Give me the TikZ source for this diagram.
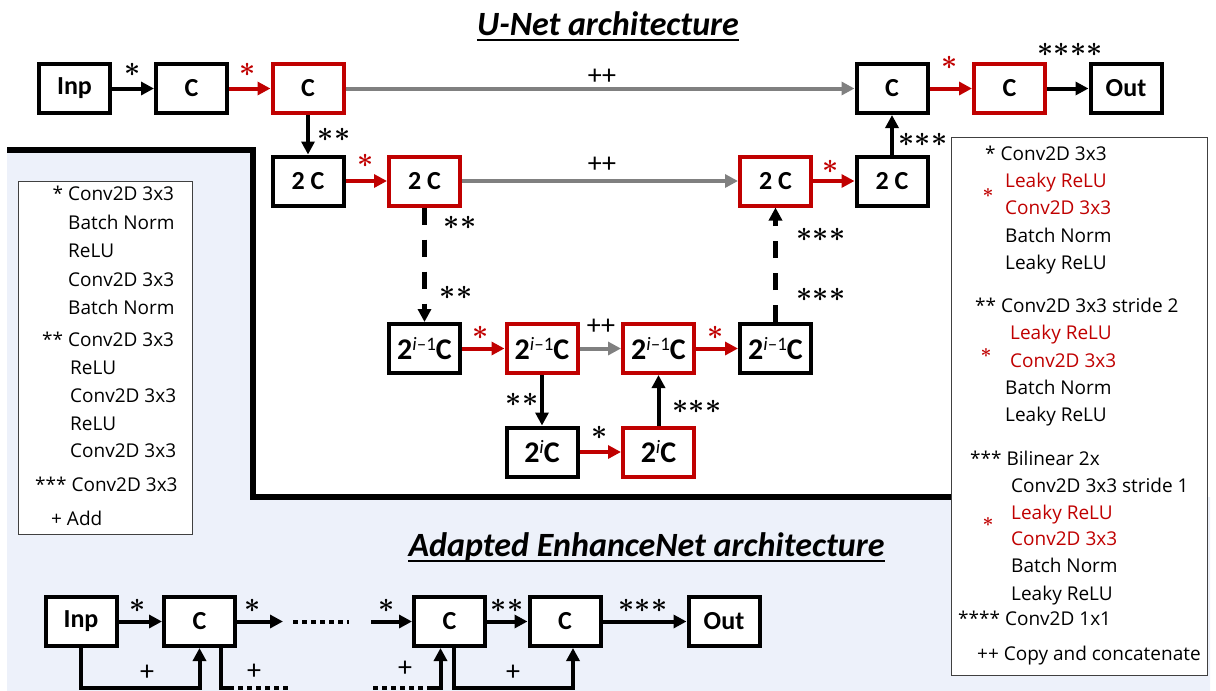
\RequirePackage{fix-cm}
\documentclass[tikz,border=0pt]{standalone}
\usepackage{fontspec}
\setmainfont{Open Sans}
\newfontfamily\carl{Carlito}
\usetikzlibrary{arrows.meta,calc}
\definecolor{ured}{RGB}{192,0,0}
\definecolor{ugray}{RGB}{128,128,128}
\definecolor{bgblue}{RGB}{237,241,250}
\definecolor{lgline}{RGB}{64,64,64}
\newcommand\astr{{\boldmath$\ast$}}
\newcommand\pw[1]{{\bfseries 2}\raisebox{9pt}{\fontsize{19}{19}\selectfont #1}{\bfseries C}}
\begin{document}
\begin{tikzpicture}[x=1pt,y=-1pt,
 box/.style={draw=black,line width=4pt,fill=white,minimum width=71pt,minimum height=49pt,inner sep=0pt,font=\carl\bfseries\fontsize{26}{26}\selectfont},
 rbox/.style={box,draw=ured},
 pbox/.style={box,font=\carl\fontsize{30}{30}\selectfont},
 rpbox/.style={pbox,draw=ured},
 arr/.style={line width=4pt,-{Triangle[length=13pt,width=13pt]}},
 darr/.style={arr,line width=4.5pt,dash pattern=on 17pt off 15pt},
 dots/.style={line width=4pt,dash pattern=on 5pt off 4pt},
 ast/.style={inner sep=0pt,font=\fontsize{28}{28}\selectfont},
 pls/.style={inner sep=0pt,font=\carl\fontsize{28}{28}\selectfont},
 lg/.style={inner sep=0pt,anchor=base west,font=\fontsize{19}{19}\selectfont},
 rlg/.style={lg,text=ured},
 lgbox/.style={draw=lgline,line width=1.3pt,fill=white,inner sep=0pt},
 ttl/.style={inner sep=0pt,anchor=base,font=\carl\bfseries\itshape\fontsize{34}{34}\selectfont}]
\useasboundingbox (0,0) rectangle (1216,691);
% background
\fill[bgblue] (7,150) -- (253,150) -- (253,497) -- (1210,497) -- (1210,691) -- (7,691) -- cycle;
\draw[line width=5.5pt] (7,150) -- (253,150) -- (253,497) -- (952,497);
% titles
\node[ttl] (t1) at (608,35) {U-Net architecture};
\draw[line width=2pt] ([yshift=-5pt]t1.base west) -- ([yshift=-5pt]t1.base east);
\node[ttl] (t2) at (646.5,556) {Adapted EnhanceNet architecture};
\draw[line width=2pt] ([yshift=-5pt]t2.base west) -- ([yshift=-5pt]t2.base east);
% U-Net nodes
\node[box]  (inp) at (74.5,88.5) {Inp};
\node[box]  (c1)  at (191.5,88.5) {C};
\node[rbox] (c2)  at (308,88.5) {C};
\node[box]  (c3)  at (892,88.5) {C};
\node[rbox] (c4)  at (1009.5,88.5) {C};
\node[box]  (out) at (1126,88.5) {Out};
\node[box]  (d1) at (308,181) {2 C};
\node[rbox] (d2) at (424.5,181) {2 C};
\node[rbox] (u2) at (775.5,181) {2 C};
\node[box]  (u1) at (892,181) {2 C};
\node[pbox]  (m1) at (424.5,348.5) {\pw{\textit{i}–1}};
\node[rpbox] (m2) at (542,348.5) {\pw{\textit{i}–1}};
\node[rpbox] (m3) at (658.5,348.5) {\pw{\textit{i}–1}};
\node[pbox]  (m4) at (775.5,348.5) {\pw{\textit{i}–1}};
\node[pbox]  (b1) at (542,452) {\pw{\textit{i}}};
\node[rpbox] (b2) at (658.5,452) {\pw{\textit{i}}};
% U-Net connectors
\draw[arr] (inp) -- (c1);
\draw[arr,ured] (c1) -- (c2);
\draw[arr,ugray] (c2) -- (c3);
\draw[arr,ured] (c3) -- (c4);
\draw[arr] (c4) -- (out);
\draw[arr] (c2) -- (d1);
\draw[arr] (u1) -- (c3);
\draw[arr,ured] (d1) -- (d2);
\draw[arr,ugray] (d2) -- (u2);
\draw[arr,ured] (u2) -- (u1);
\draw[darr] (d2) -- (m1);
\draw[darr] (m4) -- (u2);
\draw[arr,ured] (m1) -- (m2);
\draw[arr,ugray] (m2) -- (m3);
\draw[arr,ured] (m3) -- (m4);
\draw[arr] (m2) -- (b1);
\draw[arr,ured] (b1) -- (b2);
\draw[arr] (b2) -- (m3);
% U-Net labels
\node[ast] (a1) at (133,70) {\astr};
\node[ast,text=ured] (a2) at (248,70) {\astr};
\node[pls] (p1) at (602,77) {++};
\node[ast,text=ured] (a3) at (950,63) {\astr};
\node[ast] (a4) at (1070,50) {\astr\astr\astr\astr};
\node[ast] (a5) at (334,135) {\astr\astr};
\node[ast] (a6) at (923,140) {\astr\astr\astr};
\node[ast,text=ured] (a7) at (366,161) {\astr};
\node[pls] (p2) at (602,165) {++};
\node[ast,text=ured] (a8) at (831,167) {\astr};
\node[ast] (a9) at (460,223) {\astr\astr};
\node[ast] (a10) at (456,293) {\astr\astr};
\node[ast] (a11) at (821,235) {\astr\astr\astr};
\node[ast] (a12) at (821,295) {\astr\astr\astr};
\node[ast,text=ured] (a13) at (481,333) {\astr};
\node[pls] (p3) at (601,327) {++};
\node[ast,text=ured] (a14) at (716,333) {\astr};
\node[ast] (a15) at (522,400) {\astr\astr};
\node[ast] (a16) at (600,433) {\astr};
\node[ast] (a17) at (697,407) {\astr\astr\astr};
% left legend
\node[lgbox,minimum width=174pt,minimum height=353pt] (lleg) at (105.5,358) {};
\node[lg] (l1) at (52.5,200) {* Conv2D 3x3};
\node[lg] (l2) at (68,229) {Batch Norm};
\node[lg] (l3) at (68,257) {ReLU};
\node[lg] (l4) at (68,286) {Conv2D 3x3};
\node[lg] (l5) at (68,314) {Batch Norm};
\node[lg] (l6) at (42,346) {** Conv2D 3x3};
\node[lg] (l7) at (70,374) {ReLU};
\node[lg] (l8) at (70,402) {Conv2D 3x3};
\node[lg] (l9) at (70,430) {ReLU};
\node[lg] (l10) at (70,457) {Conv2D 3x3};
\node[lg] (l11) at (35,491) {*** Conv2D 3x3};
\node[lg] (l12) at (51,525) {+ Add};
% right legend
\node[lgbox,minimum width=256pt,minimum height=538pt] (rleg) at (1079.5,406.5) {};
\node[lg] (r1) at (985,160) {* Conv2D 3x3};
\node[rlg] (r2) at (1005,187) {Leaky ReLU};
\node[rlg] (r3) at (1005,214) {Conv2D 3x3};
\node[lg] (r4) at (1005,242) {Batch Norm};
\node[lg] (r5) at (1005,269) {Leaky ReLU};
\node[ast,text=ured,font=\fontsize{19}{19}\selectfont] (rs1) at (988,193) {\astr};
\node[lg] (r6) at (975,312) {** Conv2D 3x3 stride 2};
\node[rlg] (r7) at (1010,339) {Leaky ReLU};
\node[rlg] (r8) at (1010,367) {Conv2D 3x3};
\node[lg] (r9) at (1005,394) {Batch Norm};
\node[lg] (r10) at (1005,421) {Leaky ReLU};
\node[ast,text=ured,font=\fontsize{19}{19}\selectfont] (rs2) at (986,353) {\astr};
\node[lg] (r11) at (970,465) {*** Bilinear 2x};
\node[lg] (r12) at (1011,492) {Conv2D 3x3 stride 1};
\node[rlg] (r13) at (1011,519) {Leaky ReLU};
\node[rlg] (r14) at (1011,545) {Conv2D 3x3};
\node[lg] (r15) at (1011,572) {Batch Norm};
\node[lg] (r16) at (1011,600) {Leaky ReLU};
\node[ast,text=ured,font=\fontsize{19}{19}\selectfont] (rs3) at (988,522) {\astr};
\node[lg] (r17) at (958,625) {**** Conv2D 1x1};
\node[lg] (r18) at (977,660) {++ Copy and concatenate};
% EnhanceNet
\node[box] (binp) at (81,621.5) {Inp};
\node[box] (bc1) at (199.5,621.5) {C};
\node[box] (bc2) at (449.5,621.5) {C};
\node[box] (bc3) at (565,621.5) {C};
\node[box] (bout) at (724,621.5) {Out};
\coordinate (bd1) at (283,621.5);
\coordinate (dA) at (293,621.5);
\coordinate (dB) at (349,621.5);
\coordinate (bd2) at (371,621.5);
\draw[arr] (binp) -- (bc1);
\draw[arr] (bc1) -- (bd1);
\draw[dots] (dA) -- (dB);
\draw[arr] (bd2) -- (bc2);
\draw[arr] (bc2) -- (bc3);
\draw[arr] (bc3) -- (bout);
\node[ast] (e1) at (138,606) {\astr};
\node[ast] (e2) at (253,606) {\astr};
\node[ast] (e3) at (387,606) {\astr};
\node[ast] (e4) at (507,606) {\astr\astr};
\node[ast] (e5) at (643,606) {\astr\astr\astr};
% skip connections
\draw[arr] (binp.south) -- ++(0,40) -| (bc1.south);
\draw[line width=4pt] ([xshift=21.5pt]bc1.south) -- ++(0,40) -- ++(8,0) coordinate (s1);
\coordinate (s1e) at (291,688);
\draw[dots] (s1) -- (s1e);
\coordinate (s2a) at (373,688);
\coordinate (s2b) at (430,688);
\draw[dots] (s2a) -- (s2b);
\draw[arr] (s2b) -| ([xshift=-9pt]bc2.south);
\draw[arr] ([xshift=4pt]bc2.south) -- ++(0,40) -| ([xshift=8pt]bc3.south);
\node[pls] (q1) at (147,673) {+};
\node[pls] (q2) at (254,672) {+};
\node[pls] (q3) at (405,669) {+};
\node[pls] (q4) at (513,673) {+};
\end{tikzpicture}
\end{document}
